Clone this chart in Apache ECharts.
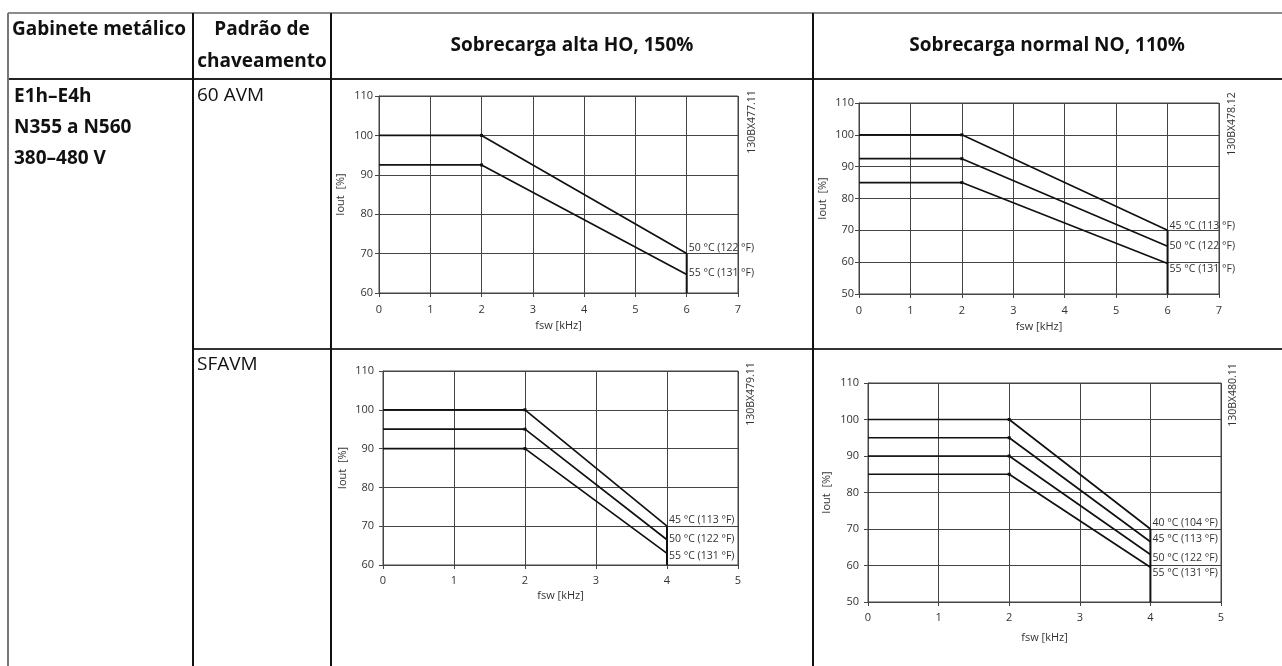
<!DOCTYPE html>
<html>
<head>
<meta charset="utf-8">
<script src="https://cdn.jsdelivr.net/npm/echarts@6/dist/echarts.min.js"></script>
<style>
  html, body { margin: 0; padding: 0; background: #fff; }
  #main { width: 1282px; height: 666px; }
</style>
</head>
<body>
<div id="main"></div>
<script>
// ---- data ----
const avmFreq = [0, 2, 6];
const sfavmFreq = [0, 2, 4];

const hoAvmNames = ["50 °C (122 °F)", "55 °C (131 °F)"];
const hoAvm50 = [100, 100, 70];
const hoAvm55 = [92.5, 92.5, 64.7];
const hoAvmLimit = [60, 70];

const noAvmNames = ["45 °C (113 °F)", "50 °C (122 °F)", "55 °C (131 °F)"];
const noAvm45 = [100, 100, 70];
const noAvm50 = [92.5, 92.5, 65];
const noAvm55 = [85, 85, 59.6];
const noAvmLimit = [50, 70];

const hoSfNames = ["45 °C (113 °F)", "50 °C (122 °F)", "55 °C (131 °F)"];
const hoSf45 = [100, 100, 70];
const hoSf50 = [95, 95, 66.5];
const hoSf55 = [90, 90, 63];
const hoSfLimit = [60, 70];

const noSfNames = ["40 °C (104 °F)", "45 °C (113 °F)", "50 °C (122 °F)", "55 °C (131 °F)"];
const noSf40 = [100, 100, 70];
const noSf45 = [95, 95, 66.5];
const noSf50 = [90, 90, 63];
const noSf55 = [85, 85, 59.5];
const noSfLimit = [50, 70];

const headers = ["Gabinete metálico", "Padrão de", "chaveamento", "Sobrecarga alta HO, 150%", "Sobrecarga normal NO, 110%"];
const enclosure = ["E1h–E4h", "N355 a N560", "380–480 V"];
const patterns = ["60 AVM", "SFAVM"];
const codes = ["130BX477.11", "130BX478.12", "130BX479.11", "130BX480.11"];

// ---- layout ----
const ff = "'Open Sans', sans-serif";
const ink = "#111";
const gridInk = "#444";

const charts = [
  { grid: { left: 379, top: 96, width: 359, height: 197 }, freq: avmFreq, curves: [hoAvm50, hoAvm55], names: hoAvmNames, limit: hoAvmLimit, yMin: 60, xMax: 7, dy: [-6, -1], yGap: 33, xGap: 27, xMargin: 11, yMargin: 6, code: [752, 122] },
  { grid: { left: 859, top: 103, width: 360, height: 191 }, freq: avmFreq, curves: [noAvm45, noAvm50, noAvm55], names: noAvmNames, limit: noAvmLimit, yMin: 50, xMax: 7, dy: [-4, 0, 6], yGap: 31, xGap: 27, xMargin: 11, yMargin: 5, code: [1232, 124] },
  { grid: { left: 383, top: 371, width: 355, height: 194 }, freq: sfavmFreq, curves: [hoSf45, hoSf50, hoSf55], names: hoSfNames, limit: hoSfLimit, yMin: 60, xMax: 5, dy: [-6, -1, 3], yGap: 35, xGap: 25, xMargin: 10, yMargin: 9, code: [751, 394] },
  { grid: { left: 868, top: 383, width: 353, height: 219 }, freq: sfavmFreq, curves: [noSf40, noSf45, noSf50, noSf55], names: noSfNames, limit: noSfLimit, yMin: 50, xMax: 5, dy: [-6, -3, 3, 6], yGap: 36, xGap: 30, xMargin: 10, yMargin: 9, code: [1233, 395] }
];

const grid = [], xAxis = [], yAxis = [], series = [], graphic = [];

charts.forEach((c, i) => {
  grid.push({ ...c.grid, show: true, borderColor: gridInk, borderWidth: 1 });
  xAxis.push({
    gridIndex: i, type: "value", min: 0, max: c.xMax, interval: 1,
    name: "fsw [kHz]", nameLocation: "middle", nameGap: c.xGap,
    nameTextStyle: { fontSize: 11, color: "#333", fontFamily: ff },
    axisLine: { show: true, onZero: false, lineStyle: { color: gridInk } },
    axisTick: { show: true, inside: false, length: 4, lineStyle: { color: gridInk } },
    axisLabel: { fontSize: 11, color: "#333", fontFamily: ff, margin: c.xMargin },
    splitLine: { show: true, lineStyle: { color: gridInk, width: 1 } }
  });
  yAxis.push({
    gridIndex: i, type: "value", min: c.yMin, max: 110, interval: 10,
    name: "Iout  [%]", nameLocation: "middle", nameGap: c.yGap,
    nameTextStyle: { fontSize: 11, color: "#333", fontFamily: ff },
    axisLine: { show: true, lineStyle: { color: gridInk } },
    axisTick: { show: true, inside: false, length: 4, lineStyle: { color: gridInk } },
    axisLabel: { fontSize: 11, color: "#333", fontFamily: ff, margin: c.yMargin },
    splitLine: { show: true, lineStyle: { color: gridInk, width: 1 } }
  });
  c.curves.forEach((vals, k) => {
    series.push({
      type: "line", name: c.names[k], xAxisIndex: i, yAxisIndex: i,
      data: c.freq.map((f, j) => [f, vals[j]]),
      symbol: "rect",
      // only the knee point carries a small dot
      symbolSize: (val, params) => (params.dataIndex === 1 ? 3 : 0),
      lineStyle: { color: ink, width: 1.7 },
      itemStyle: { color: ink },
      endLabel: {
        show: true, formatter: (p) => p.seriesName, distance: 2,
        offset: [0, c.dy[k]], fontSize: 10.5, color: "#333", fontFamily: ff
      },
      z: 5
    });
  });
  const xEnd = c.freq[c.freq.length - 1];
  series.push({
    type: "line", xAxisIndex: i, yAxisIndex: i,
    data: c.limit.map((v) => [xEnd, v]),
    symbol: "none", lineStyle: { color: ink, width: 2 }, z: 4
  });
  graphic.push({
    type: "text", x: c.code[0], y: c.code[1], rotation: Math.PI / 2,
    style: { text: codes[i], fontSize: 10.5, fill: "#333", fontFamily: ff, align: "center", verticalAlign: "middle" }
  });
});

// table rules
const line = (x1, y1, x2, y2, stroke, w) => ({
  type: "line", shape: { x1, y1, x2, y2 }, style: { stroke, lineWidth: w }, z: 10
});
graphic.push(
  line(8, 13, 1282, 13, "#666", 1.5),
  line(8, 79, 1282, 79, "#222", 2),
  line(193, 349, 1282, 349, "#333", 2),
  line(8, 13, 8, 666, "#777", 2),
  line(193, 13, 193, 666, "#111", 2),
  line(331, 13, 331, 666, "#111", 2),
  line(813, 13, 813, 666, "#111", 2)
);

const txt = (text, x, y, bold, align) => ({
  type: "text", x, y, z: 10,
  style: { text, fontSize: 19, fontWeight: bold ? "bold" : "normal", fill: "#111", fontFamily: ff, align: align || "left", verticalAlign: "middle" }
});
graphic.push(
  txt(headers[0], 12, 30, true),
  txt(headers[1], 262, 30, true, "center"),
  txt(headers[2], 262, 62, true, "center"),
  txt(headers[3], 572, 46, true, "center"),
  txt(headers[4], 1047, 46, true, "center"),
  txt(enclosure[0], 14, 97, true),
  txt(enclosure[1], 14, 128, true),
  txt(enclosure[2], 14, 159, true),
  txt(patterns[0], 197, 96, false),
  txt(patterns[1], 197, 365, false)
);

const myChart = echarts.init(document.getElementById("main"));
myChart.setOption({
  animation: false,
  backgroundColor: "#fff",
  grid, xAxis, yAxis, series, graphic
});
</script>
</body>
</html>
